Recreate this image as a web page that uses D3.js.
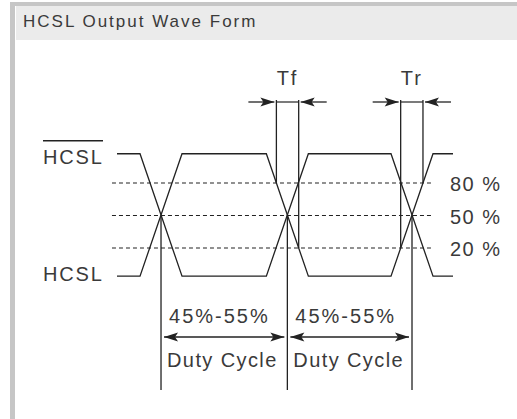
<!DOCTYPE html>
<html>
<head>
<meta charset="utf-8">
<script src="https://cdn.jsdelivr.net/npm/d3@7"></script>
<style>
  body { margin: 0; background: #fff; }
  text { font-family: "Liberation Sans", Arial, sans-serif; fill: #3a3a3a; }
</style>
</head>
<body>
<script>
// chart values
var title = "HCSL Output Wave Form";
var levelValues = [80, 50, 20];            // threshold levels, % of swing
var levelLabels = ["80 %", "50 %", "20 %"];
var railValues = [-6, 107];                // low / high rail on the same % scale
var crossTimes = [13.1, 50.7, 87.8];       // 50% crossings, time units
var edgeWidth = 12.5;                      // full swing duration, time units
var timeSpan = [0, 100];
var dashSpan = [-1.5, 94];
var hcslStates = [0, 1, 0, 1];             // HCSL level before / after each crossing
var dutyLabels = ["45%-55%", "45%-55%"];
var dutyCaption = "Duty Cycle";
var skewLabels = ["Tf", "Tr"];
var skewEdges = [1, 2];                    // which crossing each skew mark measures

var screen = {width: 517, height: 419};

var svg = d3.select("body")
            .append("svg")
            .attr("width", screen.width)
            .attr("height", screen.height);

// frame + title bar
svg.append("rect")
   .attr("x", 10).attr("y", 2)
   .attr("width", screen.width - 10).attr("height", screen.height)
   .attr("fill", "#c6c6c6");
svg.append("rect")
   .attr("x", 15).attr("y", 6)
   .attr("width", screen.width - 15).attr("height", screen.height)
   .attr("fill", "#fff");
svg.append("rect")
   .attr("x", 16).attr("y", 6)
   .attr("width", screen.width - 16).attr("height", 34)
   .attr("fill", "#ebebeb");
svg.append("text")
   .attr("x", 23).attr("y", 27)
   .attr("font-size", "17px")
   .attr("letter-spacing", "2px")
   .attr("fill", "#222")
   .text(title);

var x = d3.scaleLinear().domain(timeSpan).range([117, 453]);
var y = d3.scaleLinear().domain([20, 80]).range([248, 183]);

var ink = "#222";
var lw = 1.3;

// threshold lines
levelValues.forEach(function(v, i) {
  svg.append("line")
     .attr("x1", x(dashSpan[0])).attr("x2", x(dashSpan[1]))
     .attr("y1", y(v)).attr("y2", y(v))
     .attr("stroke", ink)
     .attr("stroke-width", 1.2)
     .attr("stroke-dasharray", "4,3");
  svg.append("text")
     .attr("x", 450).attr("y", y(v) + 8)
     .attr("font-size", "20px")
     .attr("letter-spacing", "1.5px")
     .text(levelLabels[i]);
});

// waveform points from the state list
var wave = function(states) {
  var pts = [[timeSpan[0], railValues[states[0]]]];
  crossTimes.forEach(function(t, i) {
    pts.push([t - edgeWidth / 2, railValues[states[i]]]);
    pts.push([t + edgeWidth / 2, railValues[states[i + 1]]]);
  });
  pts.push([timeSpan[1], railValues[states[states.length - 1]]]);
  return pts;
};

var line = d3.line()
             .x(function(d) { return x(d[0]); })
             .y(function(d) { return y(d[1]); });

var hcsl = wave(hcslStates);
var hcslBar = wave(hcslStates.map(function(s) { return 1 - s; }));

[hcsl, hcslBar].forEach(function(pts) {
  svg.append("path")
     .attr("d", line(pts))
     .attr("fill", "none")
     .attr("stroke", ink)
     .attr("stroke-width", lw);
});

// side labels
svg.append("text")
   .attr("x", 43).attr("y", y(railValues[1]) + 10)
   .attr("font-size", "20px")
   .attr("letter-spacing", "1.8px")
   .text("HCSL");
svg.append("line")
   .attr("x1", 43).attr("x2", 103)
   .attr("y1", y(railValues[1]) - 13).attr("y2", y(railValues[1]) - 13)
   .attr("stroke", ink).attr("stroke-width", 1.4);
svg.append("text")
   .attr("x", 43).attr("y", y(railValues[0]) + 5)
   .attr("font-size", "20px")
   .attr("letter-spacing", "1.8px")
   .text("HCSL");

// arrowhead: tip at (tx,ty), dir +1 points right, -1 points left
var arrowHead = function(tx, ty, dir) {
  var len = 14, h = 4.5;
  return "M" + tx + "," + ty +
         "L" + (tx - dir * len) + "," + (ty - h) +
         "L" + (tx - dir * (len - 3)) + "," + ty +
         "L" + (tx - dir * len) + "," + (ty + h) + "Z";
};

var arrow = function(x1, x2, yy, tipAt) {
  svg.append("line")
     .attr("x1", x1).attr("x2", x2)
     .attr("y1", yy).attr("y2", yy)
     .attr("stroke", ink).attr("stroke-width", 1.3);
  tipAt.forEach(function(t) {
    svg.append("path")
       .attr("d", arrowHead(t[0], yy, t[1]))
       .attr("fill", ink);
  });
};

// time at which an edge passes a level
var levelTime = function(i, v) {
  var from = railValues[hcslStates[i]], to = railValues[hcslStates[i + 1]];
  return crossTimes[i] - edgeWidth / 2 + edgeWidth * (v - from) / (to - from);
};

// Tf / Tr marks
var skewTop = 100, skewArrowY = 102;
skewEdges.forEach(function(e, k) {
  var t80 = levelTime(e, 80), t20 = levelTime(e, 20);
  var xa = Math.min(x(t80), x(t20)), xb = Math.max(x(t80), x(t20));
  [[t80, 80], [t20, 20]].forEach(function(p) {
    svg.append("line")
       .attr("x1", x(p[0])).attr("x2", x(p[0]))
       .attr("y1", skewTop).attr("y2", y(p[1]))
       .attr("stroke", ink).attr("stroke-width", lw);
  });
  svg.append("line")
     .attr("x1", xa).attr("x2", xb)
     .attr("y1", skewArrowY).attr("y2", skewArrowY)
     .attr("stroke", ink).attr("stroke-width", 1.2);
  arrow(xa - 28, xa - 2, skewArrowY, [[xa - 2, 1]]);
  arrow(xb + 2, xb + 28, skewArrowY, [[xb + 2, -1]]);
  svg.append("text")
     .attr("x", (xa + xb) / 2).attr("y", 85)
     .attr("text-anchor", "middle")
     .attr("font-size", "20px")
     .attr("letter-spacing", "2px")
     .text(skewLabels[k]);
});

// duty cycle dividers and spans
crossTimes.forEach(function(t) {
  svg.append("line")
     .attr("x1", x(t)).attr("x2", x(t))
     .attr("y1", y(50)).attr("y2", 390)
     .attr("stroke", ink).attr("stroke-width", lw);
});

dutyLabels.forEach(function(lab, i) {
  var xl = x(crossTimes[i]), xr = x(crossTimes[i + 1]);
  arrow(xl + 3, xr - 3, 337, [[xl + 3, -1], [xr - 3, 1]]);
  svg.append("text")
     .attr("x", xl + 8).attr("y", 323)
     .attr("font-size", "20px")
     .attr("letter-spacing", "2px")
     .text(lab);
  svg.append("text")
     .attr("x", xl + 6).attr("y", 367)
     .attr("font-size", "20px")
     .attr("letter-spacing", "1.4px")
     .text(dutyCaption);
});
</script>
</body>
</html>
